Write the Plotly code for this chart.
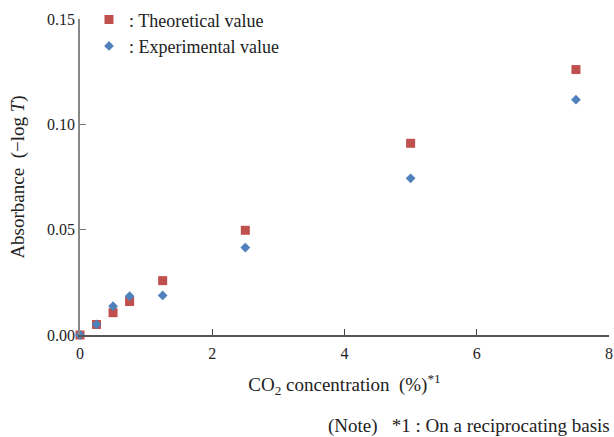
import plotly.graph_objects as go

conc = [0, 0.25, 0.5, 0.75, 1.25, 2.5, 5, 7.5]
theoretical = [0.0, 0.005, 0.0106, 0.0159, 0.0258, 0.0497, 0.091, 0.126]
experimental = [0.0, 0.005, 0.0137, 0.0184, 0.0188, 0.0415, 0.0744, 0.1117]
x_ticks = [0, 2, 4, 6, 8]
y_ticks = [0.0, 0.05, 0.10, 0.15]
y_tick_text = ["0.00", "0.05", "0.10", "0.15"]

FONT = "Liberation Serif, Times New Roman, serif"

fig = go.Figure()
fig.add_trace(go.Scatter(
    x=conc, y=theoretical, mode="markers", name=": Theoretical value",
    marker=dict(symbol="square", size=9, color="#C0504D"),
))
fig.add_trace(go.Scatter(
    x=conc, y=experimental, mode="markers", name=": Experimental value",
    marker=dict(symbol="diamond", size=7.5, color="#4F81BD"),
))

fig.update_layout(
    width=614, height=437,
    margin=dict(l=80, r=5, t=19, b=102, autoexpand=False),
    paper_bgcolor="white", plot_bgcolor="white",
    font=dict(family=FONT, size=19, color="#222"),
    showlegend=True,
    legend=dict(x=0.017, y=1.056, xanchor="left", yanchor="top",
                bgcolor="rgba(0,0,0,0)", font=dict(size=18), tracegroupgap=0),
    xaxis=dict(
        range=[0, 8], tickvals=x_ticks, ticks="inside", ticklen=6,
        tickcolor="#444", showline=True, linecolor="#555", linewidth=1.5,
        showgrid=False, zeroline=False, tickfont=dict(size=16),
        ticklabelstandoff=3,
        title=dict(text="CO<sub>2</sub> concentration  (%)<sup>*1</sup>",
                   font=dict(size=19), standoff=17),
    ),
    yaxis=dict(
        range=[0, 0.15], tickvals=y_ticks, ticktext=y_tick_text,
        ticks="inside", ticklen=6, tickcolor="#777", showline=True,
        linecolor="#888", linewidth=1.5, showgrid=False, zeroline=False,
        tickfont=dict(size=16),
        title=dict(text="Absorbance  (−log <i>T</i>)", font=dict(size=19),
                   standoff=17),
    ),
    annotations=[dict(
        text="(Note)   *1 : On a reciprocating basis",
        xref="paper", yref="paper", x=(326 - 80) / 529, y=-0.287,
        xanchor="left", yanchor="middle", showarrow=False,
        font=dict(size=19),
    )],
)
for tr in fig.data:
    tr.cliponaxis = False

fig.write_html("out.html")
